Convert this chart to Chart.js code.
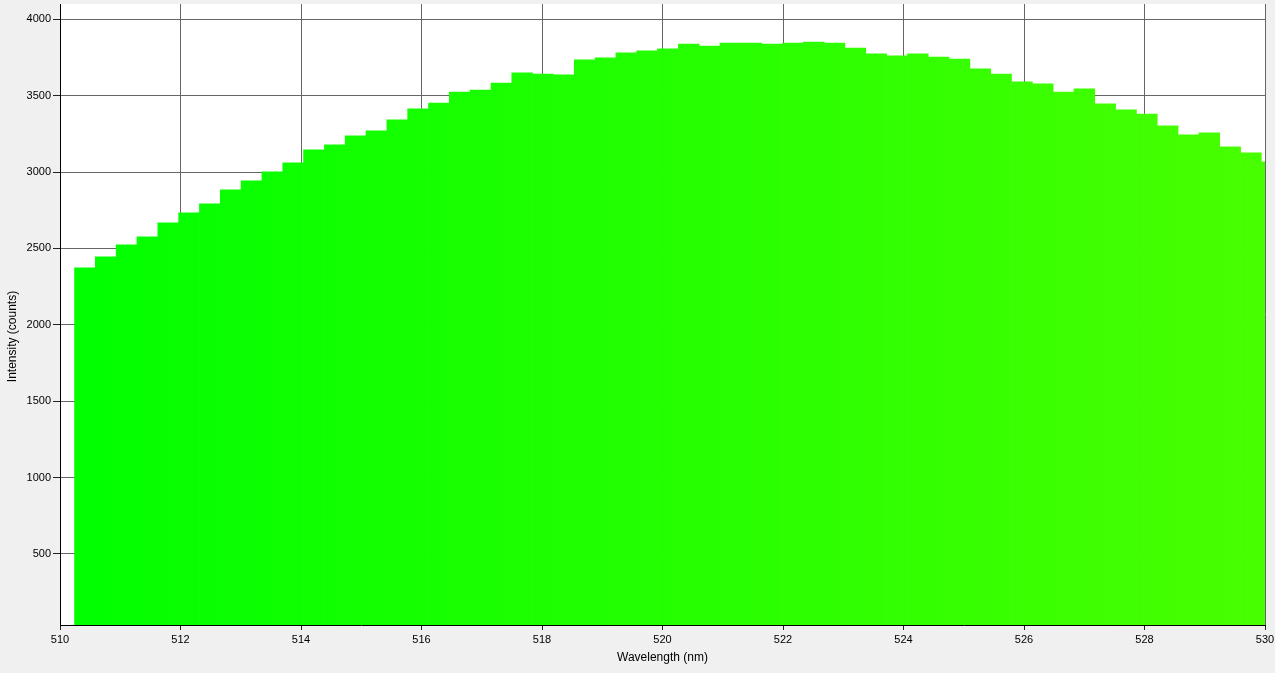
<!DOCTYPE html>
<html>
<head>
<meta charset="utf-8">
<script src="https://cdn.jsdelivr.net/npm/chart.js@4/dist/chart.umd.min.js"></script>
<style>
  html, body { margin: 0; padding: 0; background: #f0f0f0; overflow: hidden; }
  #wrap { width: 1275px; height: 673px; }
</style>
</head>
<body>
<div id="wrap"><canvas id="c" width="1275" height="673"></canvas></div>
<script>
// Bin centre wavelengths (nm)
const wavelengths = [
  510.414, 510.759, 511.105, 511.450, 511.796, 512.142, 512.487, 512.833, 513.178, 513.524,
  513.870, 514.215, 514.561, 514.906, 515.252, 515.598, 515.943, 516.289, 516.634, 516.980,
  517.326, 517.671, 518.017, 518.362, 518.708, 519.054, 519.399, 519.745, 520.090, 520.436,
  520.782, 521.127, 521.473, 521.818, 522.164, 522.510, 522.855, 523.201, 523.546, 523.892,
  524.238, 524.583, 524.929, 525.274, 525.620, 525.966, 526.311, 526.657, 527.002, 527.348,
  527.694, 528.039, 528.385, 528.730, 529.076, 529.422, 529.767, 530.113
];
// Intensity (counts)
const intensities = [
  2373, 2445, 2523, 2576, 2667, 2733, 2792, 2883, 2942, 3001,
  3060, 3145, 3178, 3237, 3269, 3341, 3413, 3452, 3524, 3537,
  3583, 3649, 3642, 3636, 3734, 3747, 3780, 3793, 3806, 3838,
  3825, 3845, 3845, 3838, 3845, 3851, 3845, 3812, 3773, 3760,
  3773, 3753, 3740, 3675, 3642, 3590, 3577, 3524, 3544, 3446,
  3407, 3380, 3302, 3243, 3256, 3165, 3125, 3067
];
const xTickValues = [510, 512, 514, 516, 518, 520, 522, 524, 526, 528, 530];
const yTickValues = [500, 1000, 1500, 2000, 2500, 3000, 3500, 4000];
const xTitle = 'Wavelength (nm)';
const yTitle = 'Intensity (counts)';

const FONT = "'Liberation Sans', Arial, sans-serif";

let gradCache = null, gradKey = '';
function barFill(ctx) {
  const chart = ctx.chart;
  const a = chart.chartArea;
  if (!a) return '#20ff00';
  const key = a.left + ',' + a.right;
  if (!gradCache || gradKey !== key) {
    const g = chart.ctx.createLinearGradient(a.left, 0, a.right, 0);
    g.addColorStop(0, '#00ff00');
    g.addColorStop(1, '#48ff00');
    gradCache = g; gradKey = key;
  }
  return gradCache;
}

const bgPlugin = {
  id: 'bg',
  beforeDraw(chart) {
    const c = chart.ctx, a = chart.chartArea;
    c.save();
    c.fillStyle = '#f0f0f0';
    c.fillRect(0, 0, chart.width, chart.height);
    c.fillStyle = '#ffffff';
    c.fillRect(a.left, a.top, a.right - a.left, a.bottom - a.top);
    c.restore();
  },
  afterDraw(chart) {
    // y-axis title, centred on the whole component height like the original
    const c = chart.ctx;
    c.save();
    c.translate(13, chart.height / 2);
    c.rotate(-Math.PI / 2);
    c.font = '12px ' + FONT;
    c.fillStyle = '#000';
    c.textAlign = 'center';
    c.textBaseline = 'middle';
    c.fillText(yTitle, 0, 0);
    c.restore();
  }
};

new Chart(document.getElementById('c'), {
  type: 'bar',
  data: {
    datasets: [{
      data: wavelengths.map((w, i) => ({ x: w, y: intensities[i] })),
      backgroundColor: barFill,
      borderWidth: 0,
      barPercentage: 1,
      categoryPercentage: 1
    }]
  },
  options: {
    responsive: false,
    animation: false,
    devicePixelRatio: 1,
    layout: { padding: { top: 4, right: 10, left: 0, bottom: 0 } },
    plugins: { legend: { display: false }, tooltip: { enabled: false } },
    scales: {
      x: {
        type: 'linear',
        min: 510, max: 530,
        offset: false,
        afterBuildTicks: s => { s.ticks = xTickValues.map(v => ({ value: v })); },
        afterFit: s => { s.height = 48; s.paddingLeft = 0; s.paddingRight = 0; },
        grid: { offset: false, color: '#666666', tickColor: '#222222', tickLength: 5, lineWidth: 1 },
        border: { color: '#000000', width: 1 },
        ticks: { color: '#000', font: { family: FONT, size: 11 }, padding: 3, maxRotation: 0, autoSkip: false,
                 callback: v => String(v) },
        title: { display: true, text: xTitle, color: '#000', font: { family: FONT, size: 12 }, padding: { top: 4, bottom: 8 } }
      },
      y: {
        type: 'linear',
        min: 35, max: 4100,
        afterBuildTicks: s => { s.ticks = yTickValues.map(v => ({ value: v })); },
        afterFit: s => { s.width = 60; s.paddingTop = 0; s.paddingBottom = 0; },
        grid: { color: '#666666', tickColor: '#222222', tickLength: 7, lineWidth: 1 },
        border: { color: '#000000', width: 1 },
        ticks: { color: '#000', font: { family: FONT, size: 11 }, padding: 2, callback: v => String(v) },
        title: { display: false }
      }
    }
  },
  plugins: [bgPlugin]
});
</script>
</body>
</html>
